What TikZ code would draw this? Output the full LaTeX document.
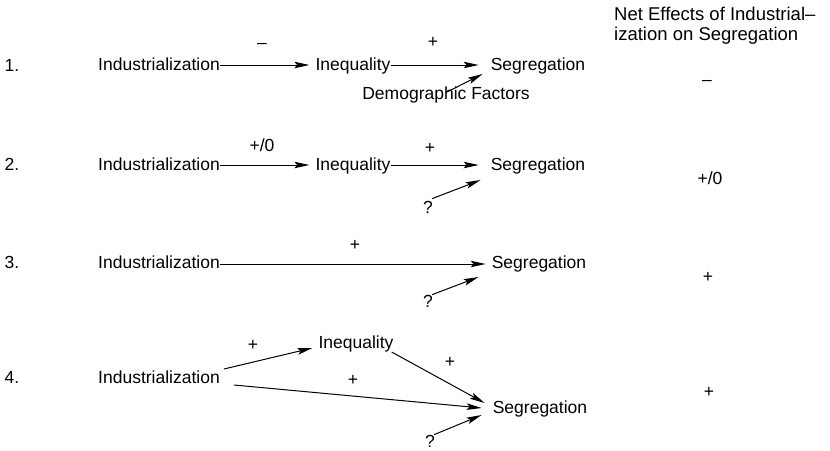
\documentclass[tikz,border=0pt]{standalone}
\usepackage{fontspec}
\setmainfont{Liberation Sans}
\usetikzlibrary{arrows.meta}
\begin{document}
\begin{tikzpicture}[x=1pt,y=-1pt,
  lbl/.style={font=\fontsize{17.5}{20}\selectfont, inner sep=0pt},
  txt/.style={lbl, anchor=base},
  head/.style={inner sep=0pt, anchor=base west, font=\fontsize{18.5}{20}\selectfont},
  arr/.style={-{Stealth[length=15pt,width=6.5pt,inset=3pt]}, line width=1pt}]
\useasboundingbox (0,0) rectangle (830,450);
% Row 1
\node[txt] (n1) at (12,71) {1.};
\node[txt] (i1) at (159,70) {Industrialization};
\node[txt] (q1) at (353,70) {Inequality};
\node[txt] (s1) at (538,70) {Segregation};
\node[lbl] (m1) at (262,46) {–};
\node[lbl] (p1) at (433,42) {+};
\node[txt] (d1) at (446,99) {Demographic Factors};
\coordinate (d1t) at (447,92);
\draw[arr] ([yshift=5pt]i1.base east) -- ([xshift=-6pt,yshift=5pt]q1.base west);
\draw[arr] ([yshift=5pt]q1.base east) -- ([xshift=-12pt,yshift=5pt]s1.base west);
\draw[arr] (d1t) -- ([xshift=-8pt,yshift=-4pt]s1.base west);
% Row 2
\node[txt] (n2) at (12,170) {2.};
\node[txt] (i2) at (159,170) {Industrialization};
\node[txt] (q2) at (353,170) {Inequality};
\node[txt] (s2) at (538,170) {Segregation};
\node[lbl] (l2a) at (262,145) {+/0};
\node[lbl] (l2b) at (430,148) {+};
\node[lbl] (u2) at (428,207) {?};
\draw[arr] ([yshift=5pt]i2.base east) -- ([xshift=-6pt,yshift=5pt]q2.base west);
\draw[arr] ([yshift=5pt]q2.base east) -- ([xshift=-12pt,yshift=5pt]s2.base west);
\draw[arr] ([xshift=4pt,yshift=2pt]u2.north) -- ([xshift=-10pt,yshift=-10pt]s2.base west);
% Row 3
\node[txt] (n3) at (12,268) {3.};
\node[txt] (i3) at (159,268) {Industrialization};
\node[txt] (s3) at (539,268) {Segregation};
\node[lbl] (l3) at (355,245) {+};
\node[lbl] (u3) at (428,301) {?};
\draw[arr] ([yshift=4pt]i3.base east) -- ([xshift=-6pt,yshift=4pt]s3.base west);
\draw[arr] ([xshift=4pt,yshift=0pt]u3.north) -- ([xshift=-13pt,yshift=-9pt]s3.base west);
% Row 4
\node[txt] (n4) at (12,383) {4.};
\node[txt] (i4) at (159,383) {Industrialization};
\node[txt] (q4) at (356,348) {Inequality};
\node[txt] (s4) at (540,413) {Segregation};
\node[lbl] (l4a) at (253,345) {+};
\node[lbl] (l4b) at (450,362) {+};
\node[lbl] (l4c) at (353,380) {+};
\node[lbl] (u4) at (430,441) {?};
\draw[arr] ([xshift=4pt,yshift=14pt]i4.base east) -- ([xshift=-6pt]q4.base west);
\draw[arr] ([xshift=-2pt,yshift=-4pt]q4.base east) -- ([xshift=-8pt,yshift=10pt]s4.base west);
\draw[arr] ([xshift=14pt,yshift=-2pt]i4.base east) -- ([xshift=-11pt,yshift=5pt]s4.base west);
\draw[arr] ([xshift=4pt,yshift=0pt]u4.north) -- ([xshift=-11pt,yshift=-2pt]s4.base west);
% Right column
\node[head] (h1) at (614,20) {Net Effects of Industrial–};
\node[head] (h2) at (614,40) {ization on Segregation};
\node[lbl] (e1) at (707,83) {–};
\node[lbl] (e2) at (710,178) {+/0};
\node[lbl] (e3) at (708,277) {+};
\node[lbl] (e4) at (709,392) {+};
\end{tikzpicture}
\end{document}
